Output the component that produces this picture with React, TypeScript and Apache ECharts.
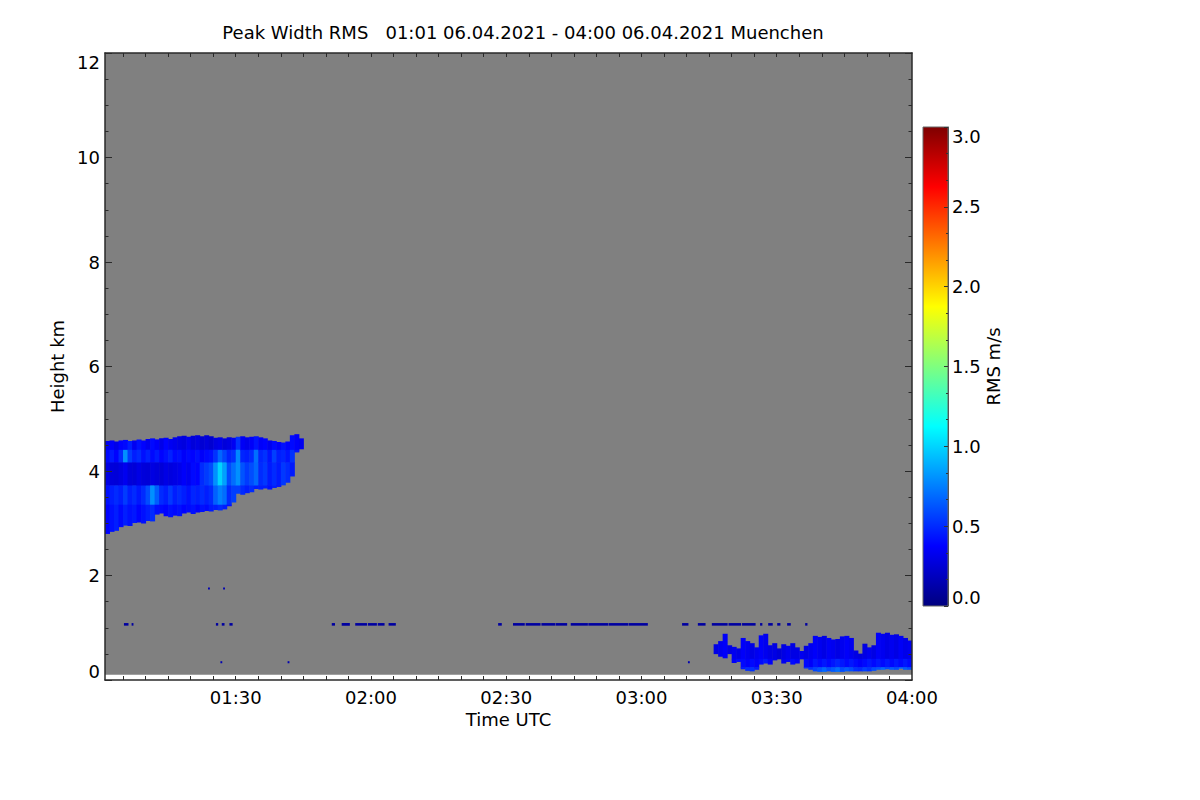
import React, { useEffect, useRef } from "react";
import * as echarts from "echarts";

// ---------- texts ----------
const TITLE = "Peak Width RMS   01:01 06.04.2021 - 04:00 06.04.2021 Muenchen";
const X_NAME = "Time UTC";
const Y_NAME = "Height km";
const CB_NAME = "RMS m/s";

// ---------- axes (time in minutes after 00:00 UTC, height in km) ----------
const TIME_MIN = 61;
const TIME_MAX = 240;
const HEIGHT_MIN = 0;
const HEIGHT_MAX = 12;
const HEIGHT_STEP = 2;
const X_LABEL_MINUTES = [90, 120, 150, 180, 210, 240];
const X_TICK_MINUTES = [65, 70, 75, 80, 85, 90, 95, 100, 105, 110, 115, 120, 125, 130, 135, 140, 145, 150, 155, 160, 165, 170, 175, 180, 185, 190, 195, 200, 205, 210, 215, 220, 225, 230, 235];
const RMS_MIN = 0;
const RMS_MAX = 3;
const RMS_STEP = 0.5;
const JET = ["#00007F", "#0000FF", "#007FFF", "#00FFFF", "#7FFF7F", "#FFFF00", "#FF7F00", "#FF0000", "#7F0000"];

// radar coverage (no-signal area drawn grey)
const COVERAGE_TIME = [61, 240];
const COVERAGE_HEIGHT = [0.1, 12];

// ---------- upper cloud layer (1-minute columns) ----------
const UPPER_MINUTES = [61, 62, 63, 64, 65, 66, 67, 68, 69, 70, 71, 72, 73, 74, 75, 76, 77, 78, 79, 80, 81, 82, 83, 84, 85, 86, 87, 88, 89, 90, 91, 92, 93, 94, 95, 96, 97, 98, 99, 100, 101, 102, 103, 104];
const UPPER_TOP = [4.57, 4.58, 4.56, 4.58, 4.59, 4.57, 4.58, 4.6, 4.58, 4.61, 4.62, 4.6, 4.62, 4.63, 4.61, 4.64, 4.66, 4.67, 4.65, 4.67, 4.68, 4.66, 4.68, 4.66, 4.63, 4.64, 4.62, 4.64, 4.63, 4.65, 4.66, 4.64, 4.65, 4.66, 4.64, 4.62, 4.58, 4.57, 4.55, 4.54, 4.56, 4.68, 4.7, 4.62];
const UPPER_BOTTOM = [2.8, 2.84, 2.86, 2.93, 2.96, 2.95, 3.01, 3.02, 3.0, 3.05, 3.04, 3.17, 3.19, 3.14, 3.12, 3.15, 3.14, 3.19, 3.21, 3.18, 3.21, 3.22, 3.24, 3.23, 3.26, 3.25, 3.27, 3.33, 3.4, 3.57, 3.55, 3.58, 3.6, 3.66, 3.65, 3.67, 3.65, 3.68, 3.7, 3.73, 3.78, 3.9, 4.36, 4.42];
// layer edges in km: [top..4.40], [4.40..4.16], [4.16..3.72], [3.72..3.35], [3.35..bottom]
const UPPER_EDGES = [4.4, 4.16, 3.72, 3.35];
const UPPER_RMS_1 = [0.33, 0.36, 0.31, 0.38, 0.4, 0.46, 0.34, 0.42, 0.38, 0.33, 0.4, 0.36, 0.31, 0.38, 0.34, 0.32, 0.3, 0.28, 0.33, 0.27, 0.29, 0.25, 0.27, 0.24, 0.29, 0.31, 0.27, 0.29, 0.34, 0.52, 0.35, 0.32, 0.36, 0.43, 0.36, 0.38, 0.33, 0.4, 0.36, 0.42, 0.38, 0.4, 0.36, 0.33];
const UPPER_RMS_2 = [0.4, 0.45, 0.38, 0.5, 0.8, 0.55, 0.46, 0.5, 0.42, 0.47, 0.4, 0.45, 0.38, 0.42, 0.47, 0.4, 0.42, 0.36, 0.4, 0.38, 0.42, 0.36, 0.4, 0.42, 0.52, 0.68, 0.58, 0.48, 0.52, 0.78, 0.48, 0.46, 0.5, 0.7, 0.48, 0.52, 0.43, 0.56, 0.46, 0.48, 0.43, 0.52, 0.43, 0.38];
const UPPER_RMS_3 = [0.3, 0.27, 0.26, 0.29, 0.33, 0.27, 0.26, 0.3, 0.27, 0.26, 0.29, 0.27, 0.26, 0.3, 0.28, 0.3, 0.32, 0.36, 0.33, 0.4, 0.38, 0.5, 0.55, 0.6, 0.8, 1.0, 0.85, 0.6, 0.7, 0.8, 0.62, 0.55, 0.6, 0.68, 0.5, 0.54, 0.45, 0.5, 0.45, 0.54, 0.5, 0.45, 0.4, 0.4];
const UPPER_RMS_4 = [0.42, 0.46, 0.5, 0.46, 0.55, 0.46, 0.5, 0.44, 0.5, 0.6, 0.8, 0.65, 0.5, 0.46, 0.54, 0.46, 0.5, 0.46, 0.42, 0.48, 0.46, 0.5, 0.46, 0.5, 0.66, 0.76, 0.7, 0.5, 0.56, 0.56, 0.5, 0.46, 0.5, 0.46, 0.46, 0.46, 0.42, 0.46, 0.42, 0.42, 0.42, 0.42, 0.42, 0.42];
const UPPER_RMS_5 = [0.38, 0.42, 0.46, 0.4, 0.46, 0.42, 0.44, 0.38, 0.42, 0.46, 0.5, 0.42, 0.4, 0.38, 0.42, 0.4, 0.42, 0.38, 0.4, 0.42, 0.38, 0.42, 0.4, 0.45, 0.46, 0.5, 0.46, 0.42, 0.42, 0.42, 0.42, 0.42, 0.42, 0.42, 0.42, 0.42, 0.42, 0.42, 0.42, 0.42, 0.42, 0.42, 0.42, 0.42];

// ---------- boundary layer (1-minute columns) ----------
const LOWER_MINUTES = [196, 197, 198, 199, 200, 201, 202, 203, 204, 205, 206, 207, 208, 209, 210, 211, 212, 213, 214, 215, 216, 217, 218, 219, 220, 221, 222, 223, 224, 225, 226, 227, 228, 229, 230, 231, 232, 233, 234, 235, 236, 237, 238, 239];
const LOWER_TOP = [0.68, 0.74, 0.88, 0.66, 0.63, 0.6, 0.8, 0.74, 0.7, 0.62, 0.85, 0.88, 0.66, 0.7, 0.6, 0.68, 0.65, 0.7, 0.62, 0.55, 0.65, 0.7, 0.84, 0.82, 0.84, 0.8, 0.77, 0.78, 0.83, 0.84, 0.8, 0.56, 0.5, 0.69, 0.62, 0.66, 0.9, 0.88, 0.9, 0.86, 0.87, 0.84, 0.8, 0.75];
const LOWER_BOTTOM = [0.5, 0.45, 0.42, 0.5, 0.33, 0.35, 0.21, 0.18, 0.17, 0.2, 0.3, 0.32, 0.3, 0.38, 0.4, 0.32, 0.35, 0.3, 0.32, 0.4, 0.23, 0.2, 0.17, 0.16, 0.16, 0.17, 0.16, 0.16, 0.16, 0.17, 0.17, 0.17, 0.17, 0.17, 0.17, 0.18, 0.2, 0.2, 0.21, 0.2, 0.2, 0.22, 0.2, 0.2];
// layer edges in km: [top..0.40], [0.40..0.24], [0.24..bottom]
const LOWER_EDGES = [0.4, 0.24];
const LOWER_RMS_1 = [0.3, 0.33, 0.36, 0.3, 0.33, 0.3, 0.36, 0.33, 0.3, 0.33, 0.36, 0.33, 0.3, 0.3, 0.26, 0.3, 0.33, 0.3, 0.3, 0.33, 0.3, 0.33, 0.36, 0.33, 0.3, 0.35, 0.33, 0.3, 0.33, 0.36, 0.33, 0.3, 0.28, 0.3, 0.33, 0.3, 0.36, 0.33, 0.3, 0.33, 0.3, 0.35, 0.31, 0.33];
const LOWER_RMS_2 = [0.33, 0.36, 0.4, 0.33, 0.36, 0.4, 0.4, 0.36, 0.4, 0.36, 0.4, 0.44, 0.36, 0.33, 0.3, 0.33, 0.36, 0.4, 0.36, 0.33, 0.4, 0.36, 0.44, 0.4, 0.44, 0.4, 0.44, 0.48, 0.44, 0.4, 0.44, 0.4, 0.36, 0.4, 0.44, 0.4, 0.44, 0.4, 0.44, 0.4, 0.44, 0.4, 0.44, 0.4];
const LOWER_RMS_3 = [0.4, 0.4, 0.4, 0.4, 0.4, 0.42, 0.45, 0.5, 0.52, 0.46, 0.42, 0.45, 0.45, 0.42, 0.4, 0.42, 0.42, 0.45, 0.42, 0.4, 0.5, 0.52, 0.58, 0.62, 0.68, 0.6, 0.64, 0.7, 0.6, 0.64, 0.6, 0.52, 0.5, 0.56, 0.52, 0.6, 0.62, 0.68, 0.6, 0.64, 0.6, 0.68, 0.64, 0.6];

// ---------- thin echo line near 1 km ----------
const LINE_START = [65.2, 66.9, 85.6, 86.9, 88.6, 111.3, 113.5, 116.5, 119.3, 121.5, 123.9, 148.2, 151.5, 154.3, 157.8, 161.0, 164.3, 168.2, 172.7, 177.2, 189.0, 192.5, 195.6, 199.3, 202.3, 206.3, 208.1, 210.1, 212.3, 216.3];
const LINE_END = [66.1, 67.2, 86.0, 87.4, 89.2, 111.9, 115.2, 119.0, 121.2, 122.9, 125.4, 148.9, 154.0, 157.5, 160.8, 163.4, 168.0, 172.5, 177.0, 181.3, 190.3, 194.1, 199.0, 202.0, 205.2, 206.7, 209.0, 210.7, 213.0, 216.7];
const LINE_HEIGHT = [1.045, 1.085];
const LINE_RMS = 0.1;

// ---------- isolated single-gate echoes ----------
const DOT_MINUTES = [83.85, 87.2, 86.6, 101.5, 190.3];
const DOT_HEIGHTS = [1.75, 1.75, 0.34, 0.34, 0.34];
const DOT_RMS = [0.15, 0.15, 0.15, 0.15, 0.15];

// ---------- build cells [t0, t1, h0, h1, rms] ----------
function layered(minutes: number[], tops: number[], bottoms: number[], edges: number[], values: number[][]) {
  const out: number[][] = [];
  const bounds = [Infinity, ...edges, -Infinity];
  minutes.forEach((m, i) => {
    for (let k = 0; k < values.length; k++) {
      const hi = Math.min(tops[i], bounds[k]);
      const lo = Math.max(bottoms[i], bounds[k + 1]);
      if (hi > lo) out.push([m, m + 1, lo, hi, values[k][i]]);
    }
  });
  return out;
}

const CELLS: number[][] = [
  ...layered(UPPER_MINUTES, UPPER_TOP, UPPER_BOTTOM, UPPER_EDGES, [UPPER_RMS_1, UPPER_RMS_2, UPPER_RMS_3, UPPER_RMS_4, UPPER_RMS_5]),
  ...layered(LOWER_MINUTES, LOWER_TOP, LOWER_BOTTOM, LOWER_EDGES, [LOWER_RMS_1, LOWER_RMS_2, LOWER_RMS_3]),
  ...LINE_START.map((s, i) => [s, LINE_END[i], LINE_HEIGHT[0], LINE_HEIGHT[1], LINE_RMS]),
  ...DOT_MINUTES.map((m, i) => [m, m + 0.3, DOT_HEIGHTS[i] - 0.015, DOT_HEIGHTS[i] + 0.015, DOT_RMS[i]]),
];

const FONT = '"DejaVu Sans", "Liberation Sans", sans-serif';
const FS = 18;
const AXIS_COLOR = "#2a2a2a";

function fmtTime(v: number) {
  const h = Math.floor(v / 60);
  const m = Math.round(v - h * 60);
  return `${String(h).padStart(2, "0")}:${String(m).padStart(2, "0")}`;
}

function rectFrom(api: any) {
  const a = api.coord([api.value(0), api.value(3)]);
  const b = api.coord([api.value(1), api.value(2)]);
  return {
    x: a[0],
    y: a[1] - 0.25,
    width: Math.max(b[0] - a[0], 0.8) + 0.5,
    height: Math.max(b[1] - a[1], 0.8) + 0.5,
  };
}

export default function App() {
  const ref = useRef<HTMLDivElement>(null);

  useEffect(() => {
    if (!ref.current) return;
    const chart = echarts.init(ref.current, undefined, { renderer: "svg" });

    const labelStyle = { fontFamily: FONT, fontSize: FS, color: "#000" };
    const lineStyle = { color: AXIS_COLOR, width: 1.5 };

    const option: any = {
      animation: false,
      backgroundColor: "#ffffff",
      textStyle: { fontFamily: FONT },
      graphic: [
        {
          type: "text",
          x: 523,
          y: 32,
          style: {
            text: TITLE,
            fontFamily: FONT,
            fontSize: FS,
            fill: "#000",
            align: "center",
            verticalAlign: "middle",
          },
        },
      ],
      grid: [
        { left: 105, top: 53, width: 807, height: 627, containLabel: false, outerBoundsMode: "none" },
        { left: 923, top: 127, width: 25, height: 479, containLabel: false, outerBoundsMode: "none" },
      ],
      xAxis: [
        {
          gridIndex: 0,
          type: "value",
          position: "bottom",
          min: TIME_MIN,
          max: TIME_MAX,
          z: 10,
          axisLine: { show: true, onZero: false, lineStyle },
          axisTick: { show: true, inside: true, length: 4, customValues: X_TICK_MINUTES, lineStyle: { color: AXIS_COLOR } },
          axisLabel: { ...labelStyle, customValues: X_LABEL_MINUTES, formatter: (v: number) => fmtTime(v), margin: 8 },
          splitLine: { show: false },
          name: X_NAME,
          nameLocation: "middle",
          nameGap: 30,
          nameTextStyle: labelStyle,
        },
        {
          gridIndex: 0,
          type: "value",
          position: "top",
          min: TIME_MIN,
          max: TIME_MAX,
          z: 10,
          axisLine: { show: true, onZero: false, lineStyle },
          axisTick: { show: true, inside: true, length: 4, customValues: X_TICK_MINUTES, lineStyle: { color: AXIS_COLOR } },
          axisLabel: { show: false },
          splitLine: { show: false },
        },
        { gridIndex: 1, type: "value", min: 0, max: 1, show: false },
      ],
      yAxis: [
        {
          gridIndex: 0,
          type: "value",
          position: "left",
          min: HEIGHT_MIN,
          max: HEIGHT_MAX,
          interval: HEIGHT_STEP,
          z: 10,
          axisLine: { show: true, onZero: false, lineStyle },
          axisTick: { show: true, inside: true, length: 7, lineStyle: { color: AXIS_COLOR } },
          minorTick: { show: true, splitNumber: 4, length: 3.5, lineStyle: { color: AXIS_COLOR } },
          axisLabel: { ...labelStyle, margin: 5, verticalAlignMaxLabel: "top", verticalAlignMinLabel: "bottom" },
          splitLine: { show: false },
          minorSplitLine: { show: false },
          name: Y_NAME,
          nameLocation: "middle",
          nameGap: 39,
          nameRotate: 90,
          nameTextStyle: labelStyle,
        },
        {
          gridIndex: 0,
          type: "value",
          position: "right",
          min: HEIGHT_MIN,
          max: HEIGHT_MAX,
          interval: HEIGHT_STEP,
          z: 10,
          axisLine: { show: true, onZero: false, lineStyle },
          axisTick: { show: true, inside: true, length: 7, lineStyle: { color: AXIS_COLOR } },
          minorTick: { show: true, splitNumber: 4, length: 3.5, lineStyle: { color: AXIS_COLOR } },
          axisLabel: { show: false },
          splitLine: { show: false },
          minorSplitLine: { show: false },
        },
        {
          gridIndex: 1,
          type: "value",
          position: "right",
          min: RMS_MIN,
          max: RMS_MAX,
          interval: RMS_STEP,
          z: 10,
          axisLine: { show: true, onZero: false, lineStyle: { color: "#555", width: 1 } },
          axisTick: { show: true, inside: true, length: 4, lineStyle: { color: "#333" } },
          minorTick: { show: true, splitNumber: 3, length: 2, lineStyle: { color: "#333" } },
          axisLabel: {
            ...labelStyle,
            margin: 4,
            formatter: (v: number) => v.toFixed(1),
            verticalAlignMaxLabel: "top",
            verticalAlignMinLabel: "bottom",
          },
          splitLine: { show: false },
          name: CB_NAME,
          nameLocation: "middle",
          nameGap: 35,
          nameRotate: 90,
          nameTextStyle: labelStyle,
        },
      ],
      visualMap: [
        {
          type: "continuous",
          show: false,
          min: RMS_MIN,
          max: RMS_MAX,
          dimension: 4,
          seriesIndex: 1,
          inRange: { color: JET },
        },
      ],
      series: [
        {
          type: "custom",
          name: "coverage",
          xAxisIndex: 0,
          yAxisIndex: 0,
          silent: true,
          clip: true,
          z: 1,
          encode: { x: [0, 1], y: [2, 3] },
          data: [[COVERAGE_TIME[0], COVERAGE_TIME[1], COVERAGE_HEIGHT[0], COVERAGE_HEIGHT[1]]],
          renderItem: (_p: any, api: any) => {
            const a = api.coord([api.value(0), api.value(3)]);
            const b = api.coord([api.value(1), api.value(2)]);
            return {
              type: "rect",
              shape: { x: a[0], y: a[1], width: b[0] - a[0], height: b[1] - a[1] },
              style: { fill: "#808080" },
            };
          },
        },
        {
          type: "custom",
          name: "Peak Width RMS",
          xAxisIndex: 0,
          yAxisIndex: 0,
          clip: true,
          z: 2,
          encode: { x: [0, 1], y: [2, 3] },
          data: CELLS,
          renderItem: (_p: any, api: any) => ({
            type: "rect",
            shape: rectFrom(api),
            style: { fill: api.visual("color") },
          }),
        },
        {
          type: "custom",
          name: "colorbar",
          xAxisIndex: 2,
          yAxisIndex: 2,
          silent: true,
          z: 2,
          encode: { x: [0, 1], y: [2, 3] },
          data: [[0, 1, RMS_MIN, RMS_MAX]],
          renderItem: (_p: any, api: any) => {
            const a = api.coord([api.value(0), api.value(3)]);
            const b = api.coord([api.value(1), api.value(2)]);
            return {
              type: "rect",
              shape: { x: a[0], y: a[1], width: b[0] - a[0], height: b[1] - a[1] },
              style: {
                fill: new echarts.graphic.LinearGradient(
                  0,
                  1,
                  0,
                  0,
                  JET.map((c, i) => ({ offset: i / (JET.length - 1), color: c }))
                ),
                stroke: "#666",
                lineWidth: 1,
              },
            };
          },
        },
      ],
    };

    chart.setOption(option);
    return () => chart.dispose();
  }, []);

  return (
    <div
      ref={ref}
      style={{ position: "fixed", left: 0, top: 0, width: 1200, height: 800, background: "#fff" }}
    />
  );
}
